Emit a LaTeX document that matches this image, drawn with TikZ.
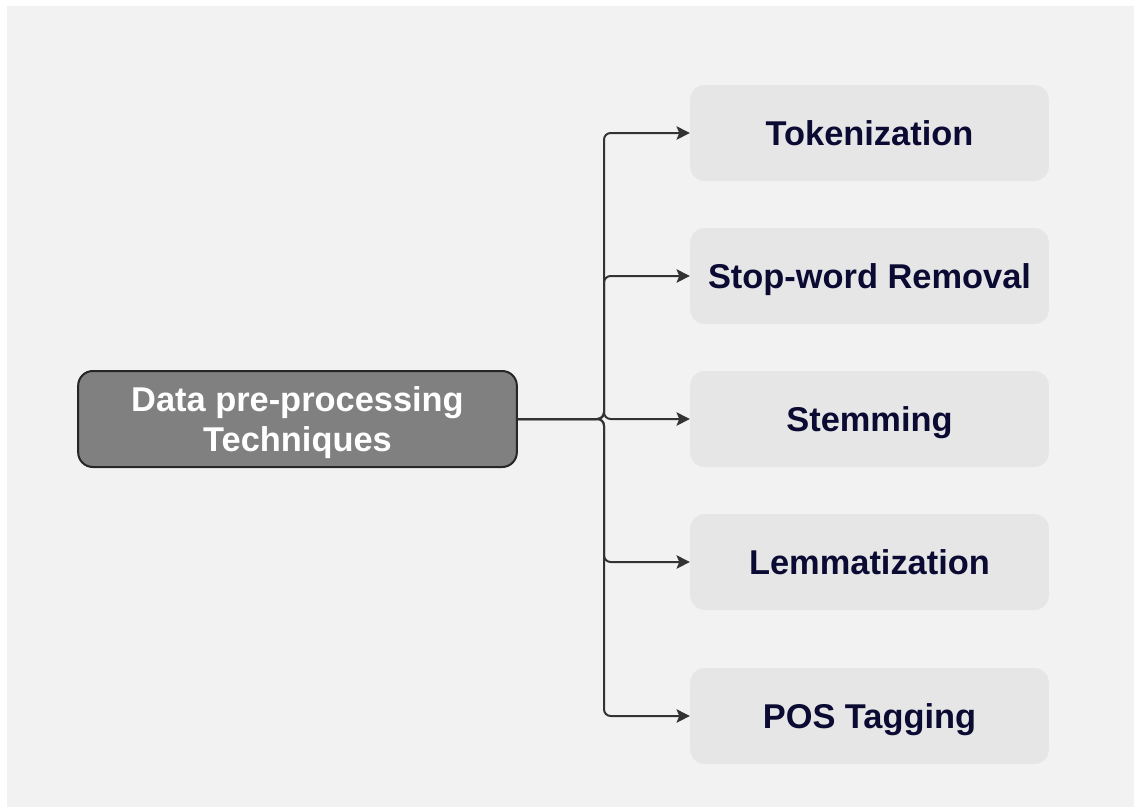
\documentclass[tikz,border=0pt]{standalone}
\usepackage{fontspec}
\setmainfont{Liberation Sans}
\usetikzlibrary{arrows.meta}

\definecolor{pagegray}{HTML}{F2F2F2}
\definecolor{rootfill}{HTML}{808080}
\definecolor{rootline}{HTML}{262626}
\definecolor{leaffill}{HTML}{E6E6E6}
\definecolor{leaftext}{HTML}{0B0A33}
\definecolor{wire}{HTML}{333333}

\tikzset{
  rootbox/.style={draw=rootline, line width=1.5pt, fill=rootfill,
    rounded corners=11pt, minimum width=329pt, minimum height=72pt,
    align=center, text=white, inner sep=0pt, text depth=0pt,
    font=\bfseries\fontsize{25.8}{29.3}\selectfont},
  leafbox/.style={fill=leaffill, rounded corners=11pt,
    minimum width=269pt, minimum height=72pt, inner sep=0pt,
    text height=18.8pt, text depth=0pt,
    text=leaftext, font=\bfseries\fontsize{25.8}{29.3}\selectfont},
  wireline/.style={draw=wire, line width=1.5pt, rounded corners=5pt,
    -{Stealth[length=10pt, width=10pt, inset=2pt]}},
}

\begin{document}
\begin{tikzpicture}[x=0.75pt, y=-0.75pt]
  % canvas
  \useasboundingbox (0,0) rectangle (1134,807);
  \fill[white] (0,0) rectangle (1134,807);
  \fill[pagegray] (7,6) rectangle (1134,807);

  % root and leaves
  \node[rootbox] (root) at (297.5,419) {Data pre-processing\\Techniques};
  \node[leafbox] (tok)  at (869.5,133) {Tokenization};
  \node[leafbox] (stop) at (869.5,276) {Stop-word Removal};
  \node[leafbox] (stem) at (869.5,419) {Stemming};
  \node[leafbox] (lem)  at (869.5,562) {Lemmatization};
  \node[leafbox] (pos)  at (869.5,716) {POS Tagging};

  % branching point on the vertical trunk
  \coordinate (fork) at (604,419);

  % connectors
  \foreach \leaf in {tok,stop,stem,lem,pos}
    \draw[wireline] (root.east) -- (fork) |- (\leaf.west);
\end{tikzpicture}
\end{document}
